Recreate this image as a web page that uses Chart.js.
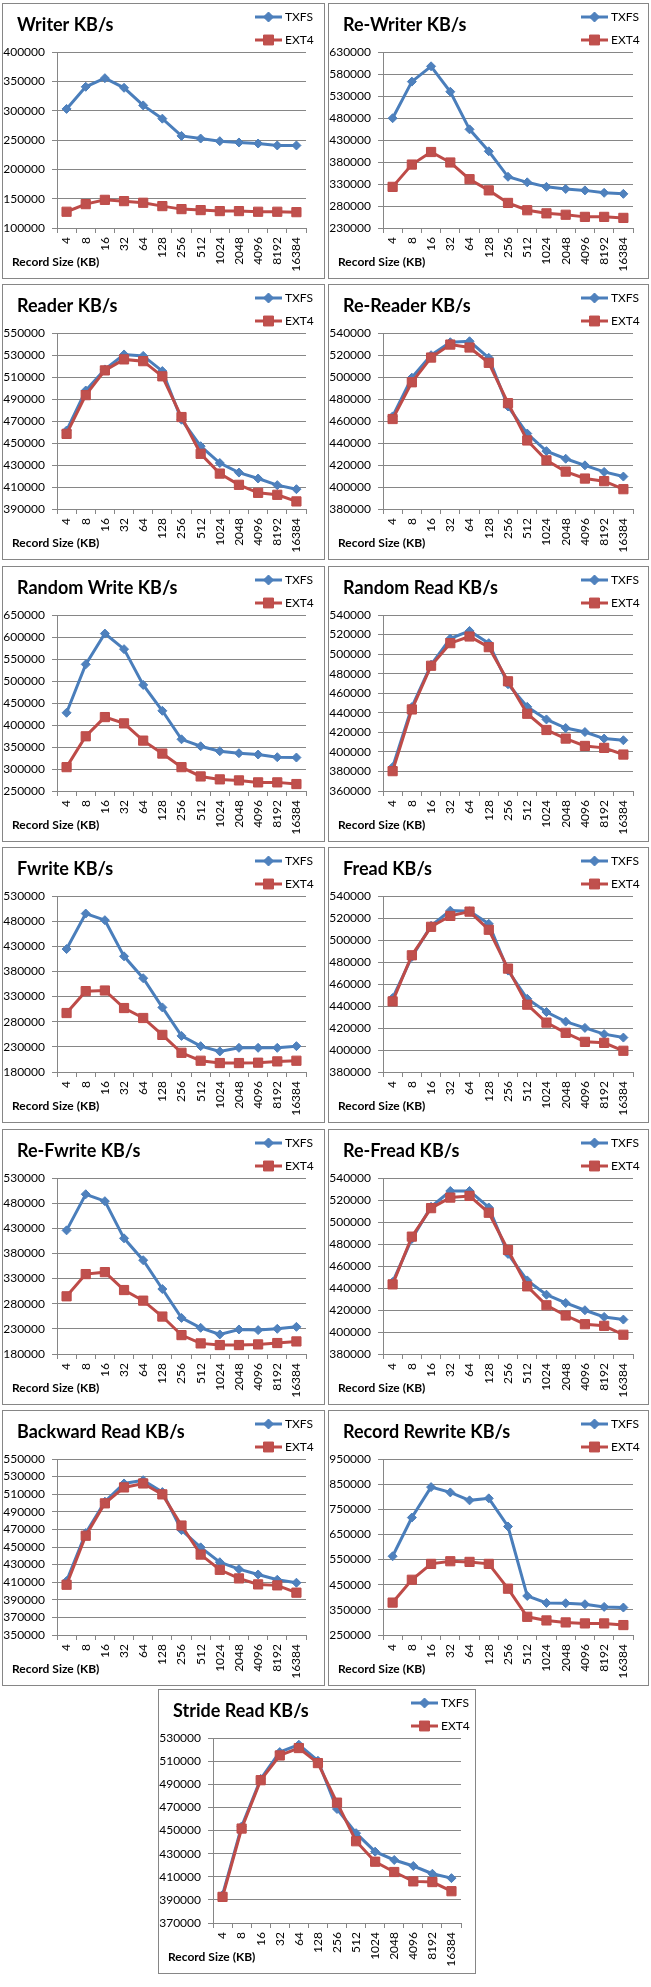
<!DOCTYPE html>
<html lang="en">
<head>
<meta charset="utf-8">
<title>TXFS vs EXT4 – IOzone KB/s</title>
<script src="https://cdn.jsdelivr.net/npm/chart.js@4.4.1/dist/chart.umd.min.js"></script>
<style>
  html, body { margin: 0; padding: 0; background: #fff; }
  body { position: relative; width: 651px; height: 1987px; overflow: hidden; }
  .panel { position: absolute; box-sizing: border-box; border: 1px solid #868686; background: #fff; }
  .panel canvas { display: block; }
</style>
</head>
<body>
<script>
// Record sizes (KB) shared by every chart
const recordSizes = ["4", "8", "16", "32", "64", "128", "256", "512", "1024", "2048", "4096", "8192", "16384"];

// Values (KB/s); axis = [min, max, step]
const writerTxfs = [303000, 340700, 355400, 339000, 309000, 286400, 257000, 252500, 248000, 245800, 244000, 240700, 240700];
const writerExt4 = [127700, 140700, 148000, 145800, 143000, 137300, 132200, 130500, 128800, 128800, 127700, 127700, 127000];
const writerAxis = [100000, 400000, 50000];

const rewriterTxfs = [479500, 562700, 597500, 539700, 454200, 404300, 346400, 333800, 323500, 318700, 315500, 310000, 307600];
const rewriterExt4 = [323500, 374200, 402700, 378900, 340900, 315500, 287000, 270400, 263300, 260100, 255300, 255300, 253000];
const rewriterAxis = [230000, 630000, 50000];

const readerTxfs = [461300, 497700, 516900, 530500, 529200, 515400, 471200, 447100, 431800, 423100, 417700, 411700, 408000];
const readerExt4 = [458300, 493500, 516000, 526000, 524400, 510600, 473600, 440200, 422200, 412000, 404700, 402900, 396900];
const readerAxis = [390000, 550000, 20000];

const rereaderTxfs = [464200, 499400, 519800, 531600, 532500, 517400, 473200, 448600, 432600, 425700, 419700, 413700, 409500];
const rereaderExt4 = [461800, 495200, 517700, 529500, 526800, 512900, 476200, 442300, 424200, 414000, 407700, 405300, 398000];
const rereaderAxis = [380000, 540000, 20000];

const randomWriteTxfs = [427800, 537800, 607800, 572400, 491100, 432300, 367500, 351700, 340400, 335900, 332900, 326800, 326100];
const randomWriteExt4 = [304200, 374300, 418000, 403700, 364500, 335100, 304200, 283100, 276400, 274100, 269600, 269600, 265800];
const randomWriteAxis = [250000, 650000, 50000];

const randomReadTxfs = [384400, 445800, 489200, 515900, 523700, 511200, 469200, 446100, 433200, 424400, 420300, 413600, 411900];
const randomReadExt4 = [380300, 443400, 488100, 511200, 518000, 507100, 472200, 439000, 422400, 413600, 406100, 404100, 397300];
const randomReadAxis = [360000, 540000, 20000];

const fwriteTxfs = [424500, 495100, 481900, 410000, 366500, 308500, 251800, 231400, 220900, 228100, 228100, 228100, 231400];
const fwriteExt4 = [297300, 340800, 342100, 307200, 287400, 253800, 218200, 202400, 197800, 197800, 198500, 201100, 202400];
const fwriteAxis = [180000, 530000, 50000];

const freadTxfs = [447200, 484600, 512900, 526700, 526100, 514700, 472200, 446600, 434500, 425800, 420100, 414400, 411300];
const freadExt4 = [444200, 486100, 512000, 521900, 525800, 509300, 474000, 441200, 424900, 415600, 407400, 406500, 399300];
const freadAxis = [380000, 540000, 20000];

const refwriteTxfs = [425900, 497700, 483900, 410000, 366500, 309200, 251800, 232100, 218900, 228800, 227500, 230100, 234000];
const refwriteExt4 = [294700, 338900, 342800, 307200, 286100, 254500, 217600, 201100, 197800, 197800, 199100, 201800, 205000];
const refwriteAxis = [180000, 530000, 50000];

const refreadTxfs = [445400, 484600, 513800, 528200, 528200, 513200, 471000, 446900, 433900, 426400, 419800, 413700, 411300];
const refreadExt4 = [443300, 486700, 512600, 522200, 523700, 508400, 474600, 441500, 424300, 415000, 407100, 405600, 397500];
const refreadAxis = [380000, 540000, 20000];

const backwardTxfs = [411300, 465800, 501500, 522200, 525900, 512400, 469200, 449600, 432700, 424800, 418800, 412800, 409400];
const backwardExt4 = [407100, 462800, 499600, 517700, 522200, 509800, 474400, 441400, 424100, 414300, 407500, 406400, 398100];
const backwardAxis = [350000, 550000, 20000];

const recordRewriteTxfs = [563200, 717100, 838200, 817100, 785500, 793400, 681600, 405300, 377600, 376300, 372400, 361800, 359200];
const recordRewriteExt4 = [378900, 469700, 532900, 543400, 540800, 532900, 434200, 322400, 307900, 300000, 296100, 296100, 289500];
const recordRewriteAxis = [250000, 950000, 100000];

const strideTxfs = [394300, 453500, 494600, 517800, 524200, 510300, 468600, 447700, 431700, 424500, 419300, 412600, 408800];
const strideExt4 = [392600, 451700, 493500, 514900, 521300, 508300, 474100, 440700, 423000, 414100, 406000, 405400, 397500];
const strideAxis = [370000, 530000, 20000];

const panels = [
  { title: "Writer KB/s", txfs: writerTxfs, ext4: writerExt4, axis: writerAxis },
  { title: "Re-Writer KB/s", txfs: rewriterTxfs, ext4: rewriterExt4, axis: rewriterAxis },
  { title: "Reader KB/s", txfs: readerTxfs, ext4: readerExt4, axis: readerAxis },
  { title: "Re-Reader KB/s", txfs: rereaderTxfs, ext4: rereaderExt4, axis: rereaderAxis },
  { title: "Random Write KB/s", txfs: randomWriteTxfs, ext4: randomWriteExt4, axis: randomWriteAxis },
  { title: "Random Read KB/s", txfs: randomReadTxfs, ext4: randomReadExt4, axis: randomReadAxis },
  { title: "Fwrite KB/s", txfs: fwriteTxfs, ext4: fwriteExt4, axis: fwriteAxis },
  { title: "Fread KB/s", txfs: freadTxfs, ext4: freadExt4, axis: freadAxis },
  { title: "Re-Fwrite KB/s", txfs: refwriteTxfs, ext4: refwriteExt4, axis: refwriteAxis },
  { title: "Re-Fread KB/s", txfs: refreadTxfs, ext4: refreadExt4, axis: refreadAxis },
  { title: "Backward Read KB/s", txfs: backwardTxfs, ext4: backwardExt4, axis: backwardAxis },
  { title: "Record Rewrite KB/s", txfs: recordRewriteTxfs, ext4: recordRewriteExt4, axis: recordRewriteAxis },
  { title: "Stride Read KB/s", txfs: strideTxfs, ext4: strideExt4, axis: strideAxis }
];

const GRID_COLOR = "#868686";
const FONT = "Lato, 'Open Sans', sans-serif";
const ROW_TOPS = [3, 284, 566, 847, 1129, 1410];
const COLUMNS = [
  { left: 2, width: 323, padRight: 18 },
  { left: 328, width: 321, padRight: 15 }
];
const LAST_FRAME = { left: 158, top: 1689, width: 318, height: 285, padRight: 14 };

Chart.defaults.font.family = FONT;
Chart.defaults.font.size = 12;
Chart.defaults.color = "#000";

// Excel-like legend (stacked, top right) and the x-axis caption at the bottom left
const decorations = {
  id: "decorations",
  afterLayout(chart, _args, opts) {
    // the y-axis labels are clipped to their own box, so the axis starts at 0
    // and only the title is pushed in from the left edge
    if (chart.titleBlock) chart.titleBlock.left = opts.titleX;
  },
  afterDraw(chart, _args, opts) {
    const { ctx } = chart;
    ctx.save();
    chart.data.datasets.forEach((dataset, i) => {
      const y = opts.legendY + i * opts.legendGap;
      const x0 = opts.legendX;
      const x1 = opts.legendX + opts.legendLine;
      ctx.strokeStyle = dataset.borderColor;
      ctx.lineWidth = dataset.borderWidth;
      ctx.beginPath();
      ctx.moveTo(x0, y);
      ctx.lineTo(x1, y);
      ctx.stroke();

      ctx.fillStyle = dataset.pointBackgroundColor;
      ctx.strokeStyle = dataset.pointBorderColor;
      ctx.lineWidth = 1;
      Chart.helpers.drawPoint(ctx, {
        pointStyle: dataset.pointStyle,
        radius: dataset.pointRadius + 0.5,
        rotation: 0,
        borderWidth: 1
      }, (x0 + x1) / 2, y);

      ctx.fillStyle = "#000";
      ctx.font = "12px " + FONT;
      ctx.textAlign = "left";
      ctx.textBaseline = "middle";
      ctx.fillText(dataset.label, x1 + 3, y);
    });

    ctx.fillStyle = "#000";
    ctx.font = "bold 12px " + FONT;
    ctx.textAlign = "left";
    ctx.textBaseline = "middle";
    ctx.fillText("Record Size (KB)", opts.captionX, chart.chartArea.bottom + opts.captionGap);
    ctx.restore();
  }
};

function buildPanel(spec, frame) {
  const box = document.createElement("div");
  box.className = "panel";
  box.style.left = `${frame.left}px`;
  box.style.top = `${frame.top}px`;
  box.style.width = `${frame.width}px`;
  box.style.height = `${frame.height}px`;

  const canvas = document.createElement("canvas");
  const w = frame.width - 2;
  const h = frame.height - 2;
  canvas.width = w;
  canvas.height = h;
  canvas.style.width = `${w}px`;
  canvas.style.height = `${h}px`;
  canvas.setAttribute("aria-label", spec.title);
  box.appendChild(canvas);
  document.body.appendChild(box);

  const [yMin, yMax, yStep] = spec.axis;

  new Chart(canvas, {
    type: "line",
    data: {
      labels: recordSizes,
      datasets: [
        {
          label: "TXFS",
          data: spec.txfs,
          borderColor: "#4A7EBB",
          borderWidth: 3,
          pointStyle: "rectRot",
          pointRadius: 4.5,
          pointBackgroundColor: "#4F81BD",
          pointBorderColor: "#4A7EBB",
          pointBorderWidth: 1,
          tension: 0,
          order: 1
        },
        {
          label: "EXT4",
          data: spec.ext4,
          borderColor: "#BE4B48",
          borderWidth: 3,
          pointStyle: "rect",
          pointRadius: 6.5,
          pointBackgroundColor: "#C0504D",
          pointBorderColor: "#BE4B48",
          pointBorderWidth: 1,
          tension: 0,
          order: 0
        }
      ]
    },
    options: {
      responsive: false,
      animation: false,
      events: [],
      layout: { padding: { left: 0, right: frame.padRight, top: 0, bottom: 0 } },
      plugins: {
        legend: { display: false },
        tooltip: { enabled: false },
        title: {
          display: true,
          text: spec.title,
          align: "start",
          color: "#000",
          font: { family: FONT, size: 18, weight: "bold" },
          padding: { top: 10, bottom: 16.4 }
        },
        decorations: {
          titleX: 14,
          legendX: 252,
          legendLine: 27,
          legendY: 13,
          legendGap: 23,
          captionX: 9,
          captionGap: 34
        }
      },
      scales: {
        x: {
          offset: true,
          ticks: { minRotation: 90, maxRotation: 90, autoSkip: false, padding: 4, color: "#000" },
          grid: { offset: true, drawOnChartArea: false, drawTicks: true, tickLength: 5, color: GRID_COLOR },
          border: { color: GRID_COLOR },
          afterFit(scale) { scale.height = 50; }
        },
        y: {
          min: yMin,
          max: yMax,
          ticks: { stepSize: yStep, padding: 7, color: "#000", callback: (value) => String(value) },
          grid: { color: GRID_COLOR, drawTicks: true, tickLength: 5 },
          border: { color: GRID_COLOR },
          afterFit(scale) { scale.width = 54; }
        }
      }
    },
    plugins: [decorations]
  });
}

panels.forEach((spec, i) => {
  if (i === panels.length - 1) {
    buildPanel(spec, LAST_FRAME);
    return;
  }
  const col = COLUMNS[i % 2];
  buildPanel(spec, {
    left: col.left,
    top: ROW_TOPS[Math.floor(i / 2)],
    width: col.width,
    height: 276,
    padRight: col.padRight
  });
});
</script>
</body>
</html>
